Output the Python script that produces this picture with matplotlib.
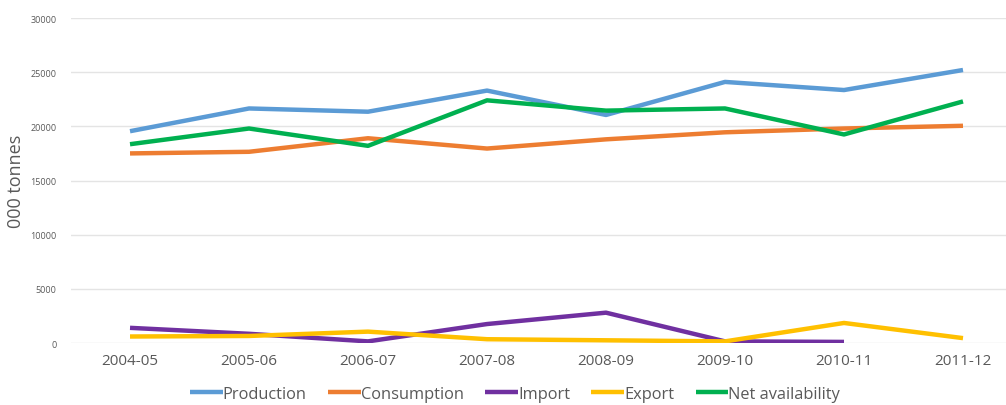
import matplotlib
import matplotlib.pyplot as plt
matplotlib.use('Agg')

years = ["2004-05", "2005-06", "2006-07", "2007-08", "2008-09", "2009-10", "2010-11", "2011-12"]
production = [19550, 21650, 21350, 23300, 21050, 24100, 23350, 25200]
consumption = [17500, 17650, 18900, 17950, 18800, 19450, 19800, 20050]
imports = [1400, 850, 150, 1750, 2800, 150, 100]
exports = [600, 650, 1050, 350, 250, 150, 1850, 450]
net_availability = [18350, 19800, 18200, 22400, 21450, 21650, 19250, 22300]

plt.rcParams['font.family'] = ['Open Sans', 'DejaVu Sans']

fig = plt.figure(figsize=(10.06, 4.06), dpi=100)
ax = fig.add_axes([0.0701, 0.1527, 0.9463, 0.8005])

x = list(range(len(years)))
lw = 3.2
ax.plot(x, production, color="#5B9BD5", linewidth=lw, label="Production", solid_capstyle='butt')
ax.plot(x, consumption, color="#ED7D31", linewidth=lw, label="Consumption", solid_capstyle='butt')
ax.plot(x[:len(imports)], imports, color="#7030A0", linewidth=lw, label="Import", solid_capstyle='butt')
ax.plot(x, exports, color="#FFC000", linewidth=lw, label="Export", solid_capstyle='butt')
ax.plot(x, net_availability, color="#00B050", linewidth=lw, label="Net availability", solid_capstyle='butt')

ax.set_xlim(-0.5, 7.5)
ax.set_ylim(0, 30000)
ax.set_yticks(range(0, 30001, 5000))
ax.set_xticks(x)
ax.set_xticklabels(years)
ax.tick_params(axis='x', length=0, labelsize=11, labelcolor="#595959", pad=7)
ax.tick_params(axis='y', length=0, labelsize=6.5, labelcolor="#595959", pad=10)
ax.grid(axis='y', color="#E4E4E4", linewidth=1)
ax.set_axisbelow(True)
for s in ax.spines.values():
    s.set_visible(False)

ax.set_ylabel("000 tonnes", fontsize=13, color="#595959", labelpad=4)

fig.legend(loc='center', bbox_to_anchor=(0.512, 0.027), ncol=5, frameon=False,
           fontsize=11.8, handlelength=2.0, handletextpad=0.0, columnspacing=1.3,
           labelcolor="#595959", borderaxespad=0, borderpad=0)

plt.savefig("out.png", dpi=100)
